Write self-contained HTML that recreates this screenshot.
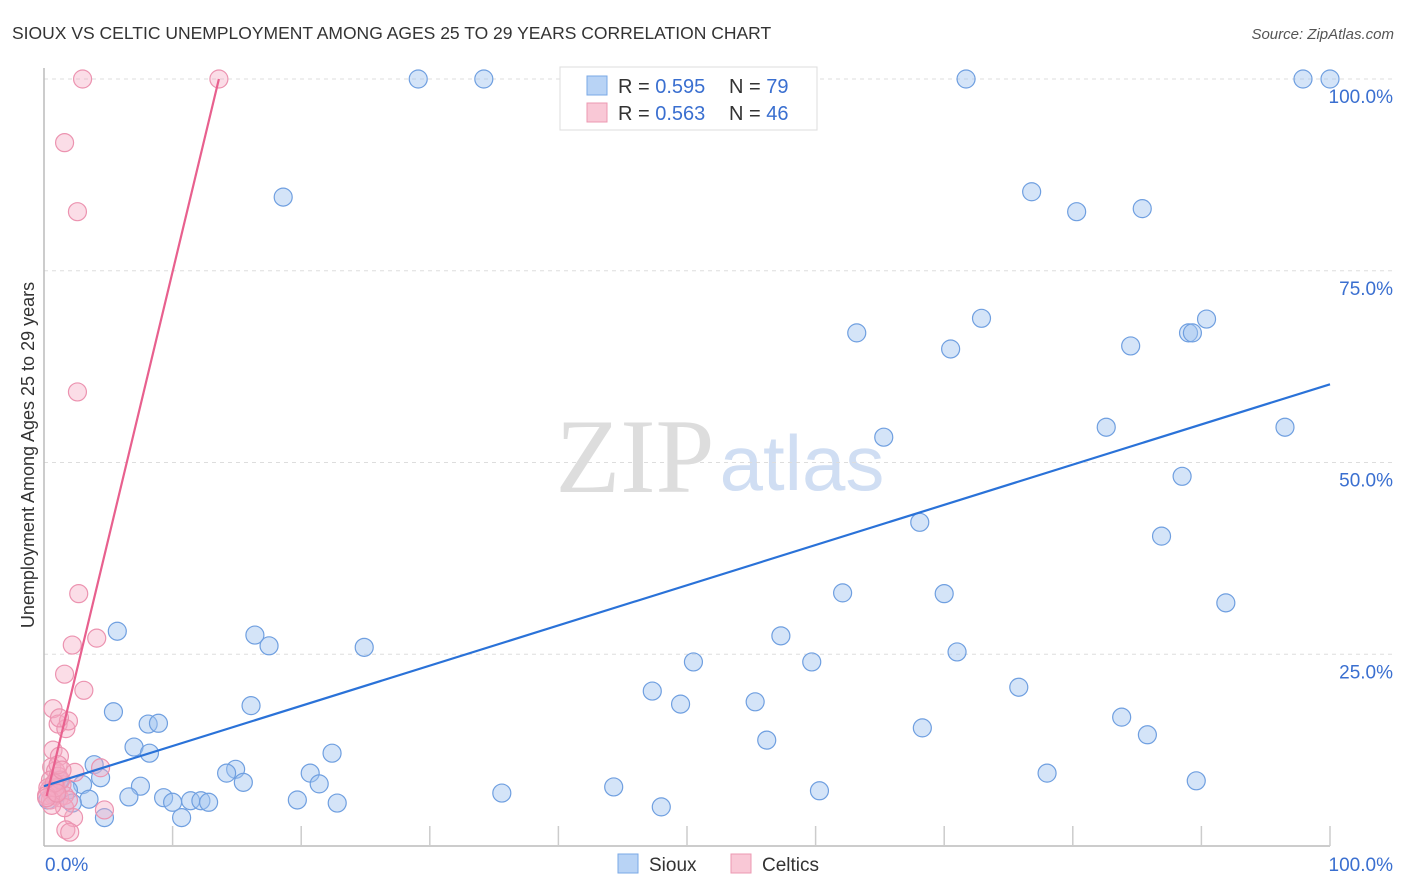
<!DOCTYPE html>
<html><head><meta charset="utf-8"><style>
body{margin:0;background:#fff;font-family:"Liberation Sans",sans-serif}
svg{display:block}
</style></head><body>
<svg id="c" width="1406" height="892">
<text x="12" y="39" font-size="17.5" fill="#333">SIOUX VS CELTIC UNEMPLOYMENT AMONG AGES 25 TO 29 YEARS CORRELATION CHART</text>
<text x="1394" y="39" font-size="15" fill="#555" font-style="italic" text-anchor="end">Source: ZipAtlas.com</text>
<text x="635" y="492" font-size="106" fill="#ddd" font-family="Liberation Serif,serif" text-anchor="middle">ZIP</text>
<text x="802" y="490" font-size="78" fill="#d0def3" text-anchor="middle">atlas</text>
<g id="grid"></g><g id="axes"></g><g id="pts"></g><g id="lines"></g>
<text transform="translate(34,455) rotate(-90)" font-size="18" fill="#333" text-anchor="middle">Unemployment Among Ages 25 to 29 years</text>
<text x="45" y="871" font-size="19" fill="#3a6fd0">0.0%</text>
<text x="1393" y="871" font-size="19" fill="#3a6fd0" text-anchor="end">100.0%</text>
<g>
<rect x="560" y="67" width="257" height="63" fill="#fff" stroke="#ddd"/>
<rect x="587" y="76" width="20" height="19" fill="#b8d3f5" stroke="#7aa8e6"/>
<rect x="587" y="103" width="20" height="19" fill="#f9c8d6" stroke="#ec98b2"/>
<text x="618" y="93" font-size="20" fill="#333">R = <tspan fill="#3a6fd0">0.595</tspan></text>
<text x="729" y="93" font-size="20" fill="#333">N = <tspan fill="#3a6fd0">79</tspan></text>
<text x="618" y="120" font-size="20" fill="#333">R = <tspan fill="#3a6fd0">0.563</tspan></text>
<text x="729" y="120" font-size="20" fill="#333">N = <tspan fill="#3a6fd0">46</tspan></text>
</g>
<g><rect x="618" y="854" width="20" height="19" fill="#b8d3f5" stroke="#7aa8e6"/><text x="649" y="871" font-size="19" fill="#333">Sioux</text></g>
<g><rect x="731" y="854" width="20" height="19" fill="#f9c8d6" stroke="#ec98b2"/><text x="762" y="871" font-size="19" fill="#333">Celtics</text></g>
</svg>
<script>
const yTicks=[25,50,75,100];
const yTickLabels=["25.0%","50.0%","75.0%","100.0%"];
const siouxPx=[[418,79],[484,79],[966,79],[1303,79],[1330,79],[283,197],[1032,192],[1077,212],[1142,209],[857,333],[981,318],[951,349],[1131,346],[1189,333],[1193,333],[1206,319],[884,437],[1106,427],[1285,427],[1182,476],[920,522],[1161,536],[843,593],[944,594],[1226,603],[117,631],[255,635],[269,646],[364,647],[781,636],[693,662],[812,662],[957,652],[652,691],[680,704],[755,702],[1019,687],[251,706],[114,712],[148,724],[159,723],[134,747],[150,753],[332,753],[767,740],[922,728],[1122,717],[1148,735],[94,765],[236,769],[227,773],[101,778],[140,786],[82,785],[68,790],[310,773],[319,784],[243,782],[1047,773],[1196,781],[614,787],[502,793],[820,791],[129,797],[163,798],[173,802],[190,801],[201,801],[209,802],[297,800],[337,803],[89,799],[72,803],[661,807],[181,818],[104,818],[55,795],[60,780],[48,800]];
const celticPx=[[82,79],[219,79],[64,143],[77,212],[78,392],[79,594],[72,645],[97,638],[64,674],[84,690],[53,709],[58,724],[66,729],[68,721],[60,718],[53,750],[59,756],[52,767],[56,771],[75,772],[100,768],[51,780],[55,783],[62,785],[49,790],[53,795],[60,798],[65,795],[104,810],[73,818],[66,830],[70,832],[48,788],[58,776],[50,800],[64,808],[56,788],[61,780],[47,795],[52,805],[58,765],[68,800],[54,783],[62,770],[46,798],[57,793]];
const siouxX=siouxPx.map(p=>+((p[0]-44)/12.86).toFixed(1));
const siouxY=siouxPx.map(p=>+((846-p[1])/7.67).toFixed(1));
const celticX=celticPx.map(p=>+((p[0]-44)/12.86).toFixed(1));
const celticY=celticPx.map(p=>+((846-p[1])/7.67).toFixed(1));
const siouxTrend=[[0,7.8],[100,60.2]];
const celticTrend=[[0.2,6.5],[13.6,100]];
const X=v=>44+v*12.86, Y=v=>846-v*7.67;
const NS="http://www.w3.org/2000/svg";
function mk(t,a,p){const e=document.createElementNS(NS,t);for(const k in a)e.setAttribute(k,a[k]);p.appendChild(e);return e;}
const grid=document.getElementById('grid'),axes=document.getElementById('axes'),pts=document.getElementById('pts'),lines=document.getElementById('lines');
yTicks.forEach((v,i)=>{
 const l=mk('line',{x1:44,x2:1392,y1:Y(v),y2:Y(v),stroke:'#ddd','stroke-dasharray':'4,4'},grid);
 
 
 const t=mk('text',{x:1393,y:Y(v)+24,'font-size':19,fill:'#3a6fd0','text-anchor':'end'},grid);
 t.textContent=yTickLabels[i];
 
 
});
const xa=mk('line',{x1:44,x2:1330,y1:846,y2:846,stroke:'#bbb','stroke-width':1.5},axes);


const ya=mk('line',{x1:44,x2:44,y1:68,y2:846,stroke:'#bbb','stroke-width':1.5},axes);


for(let i=1;i<=10;i++){const t=mk('line',{x1:X(i*10),x2:X(i*10),y1:826,y2:846,stroke:'#ccc','stroke-width':1.5},axes);
 
 }
siouxX.forEach((x,i)=>{const c=mk('circle',{cx:X(x),cy:Y(siouxY[i]),r:9,fill:'rgba(160,196,240,0.45)',stroke:'#6f9fe0','stroke-width':1.2},pts);
 
 });
celticX.forEach((x,i)=>{const c=mk('circle',{cx:X(x),cy:Y(celticY[i]),r:9,fill:'rgba(245,170,195,0.4)',stroke:'#ec93b0','stroke-width':1.2},pts);
 
 });
const sl=mk('line',{x1:X(siouxTrend[0][0]),y1:Y(siouxTrend[0][1]),x2:X(siouxTrend[1][0]),y2:Y(siouxTrend[1][1]),stroke:'#2a72d8','stroke-width':2.2},lines);


const cl=mk('line',{x1:X(celticTrend[0][0]),y1:Y(celticTrend[0][1]),x2:X(celticTrend[1][0]),y2:Y(celticTrend[1][1]),stroke:'#e8608e','stroke-width':2.2},lines);


</script>
</body></html>
